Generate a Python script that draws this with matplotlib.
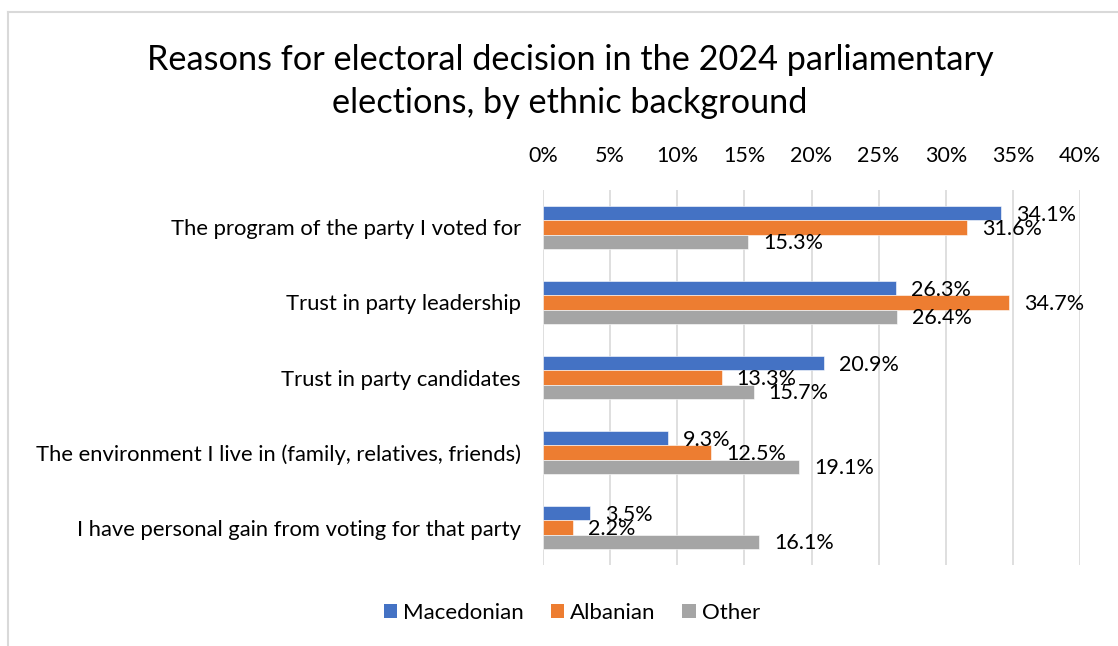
import matplotlib
matplotlib.use("Agg")
import matplotlib.pyplot as plt
from matplotlib.lines import Line2D
from matplotlib.patches import Patch
import numpy as np

plt.rcParams["font.family"] = ["Lato", "DejaVu Sans"]

# data
categories = [
    "The program of the party I voted for",
    "Trust in party leadership",
    "Trust in party candidates",
    "The environment I live in (family, relatives, friends)",
    "I have personal gain from voting for that party",
]
macedonian = [34.1, 26.3, 20.9, 9.3, 3.5]
albanian = [31.6, 34.7, 13.3, 12.5, 2.2]
other = [15.3, 26.4, 15.7, 19.1, 16.1]

series = [
    ("Macedonian", macedonian, "#4472C4"),
    ("Albanian", albanian, "#ED7D31"),
    ("Other", other, "#A5A5A5"),
]

W, H = 1118, 646
fig = plt.figure(figsize=(W / 100, H / 100), dpi=100)
ax = fig.add_axes([543 / W, 1 - 565 / H, (1080 - 543) / W, (565 - 190) / H])

y = np.arange(len(categories))
h = 0.19
label_off = 15 / ((1080 - 543) / 40)  # ~15px in data units

for k, (name, vals, col) in enumerate(series):
    pos = y + (k - 1) * h
    ax.barh(pos, vals, height=h, color=col, edgecolor="white", linewidth=0.4, zorder=3)
    for p, v in zip(pos, vals):
        ax.text(v + label_off, p + 0.02, f"{v:.1f}%", va="center", ha="left",
                fontsize=15.5, color="#000000", zorder=4)

ax.set_xlim(0, 40)
ax.set_ylim(len(categories) - 0.5, -0.5)
ax.set_xticks(np.arange(0, 41, 5))
ax.set_xticklabels([f"{t}%" for t in range(0, 41, 5)])
ax.xaxis.tick_top()
ax.set_yticks(y)
ax.set_yticklabels(categories)
ax.tick_params(axis="x", length=0, pad=17, labelsize=15.5)
ax.tick_params(axis="y", length=0, pad=16, labelsize=15.8)
ax.grid(axis="x", color="#D9D9D9", linewidth=1.2, zorder=0)
for s in ax.spines.values():
    s.set_visible(False)

fig.text(570 / W, 1 - 60 / H, "Reasons for electoral decision in the 2024 parliamentary",
         ha="center", va="center", fontsize=24.7)
fig.text(570 / W, 1 - 103 / H, "elections, by ethnic background",
         ha="center", va="center", fontsize=24.7)

handles = [Patch(facecolor=c, edgecolor="none", label=n) for n, _, c in series]
fig.legend(handles=handles, loc="center", bbox_to_anchor=(572 / W, 1 - 613 / H),
           ncol=3, frameon=False, fontsize=16, handlelength=0.6, handleheight=0.6,
           handletextpad=0.28, columnspacing=1.2)

# outer chart border
fig.add_artist(Line2D([8 / W, 1117 / W], [1 - 12 / H, 1 - 12 / H], color="#D9D9D9", lw=1.5))
fig.add_artist(Line2D([8 / W, 8 / W], [1 - 12 / H, 0], color="#D9D9D9", lw=1.5))

fig.savefig("out.png", dpi=100, facecolor="white")
